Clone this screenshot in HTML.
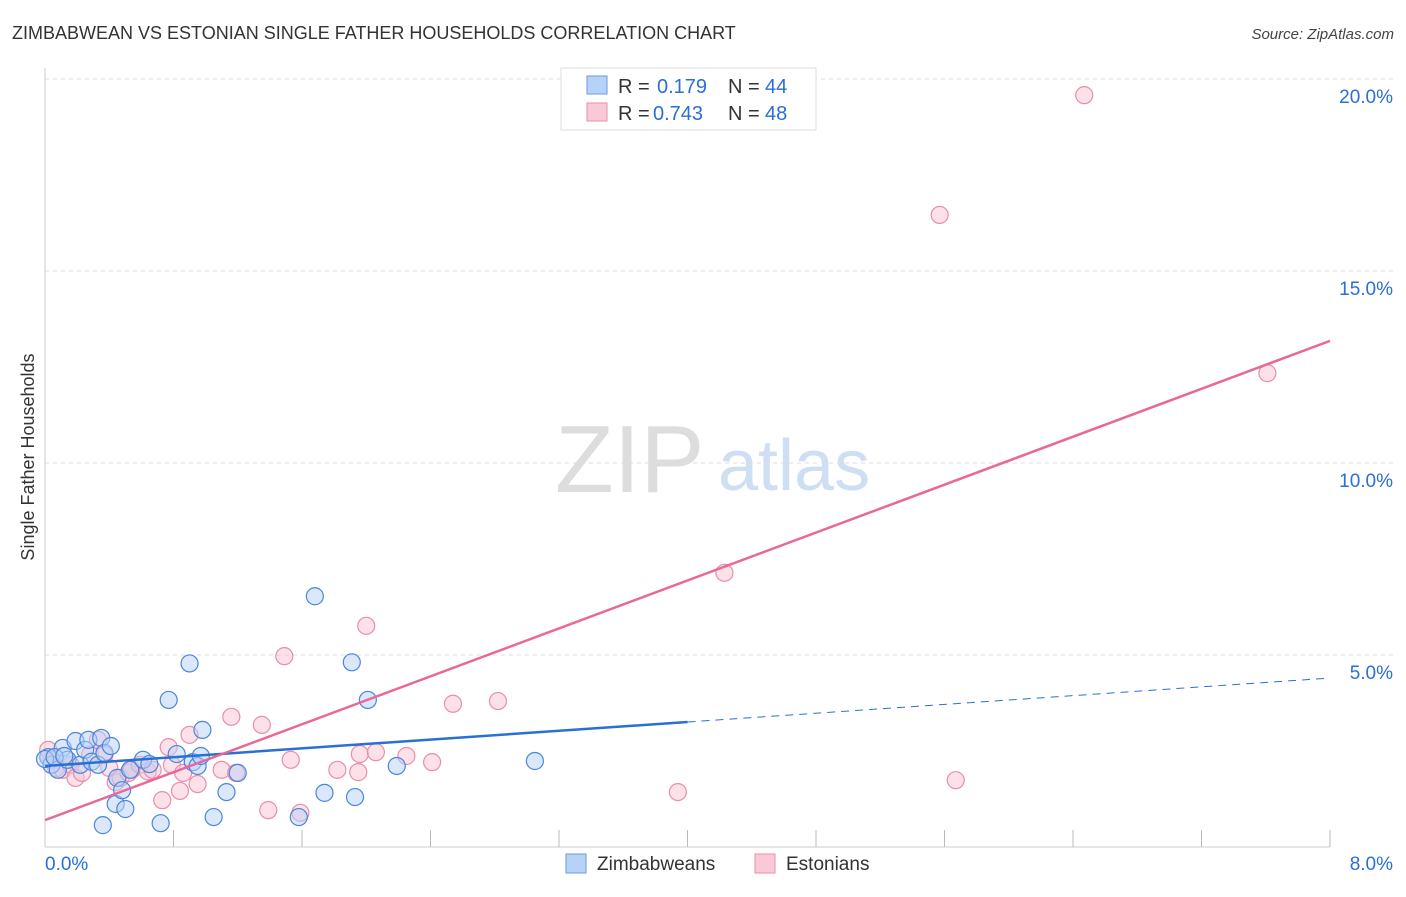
<!DOCTYPE html>
<html><head><meta charset="utf-8"><style>
body{margin:0;background:#fff;font-family:"Liberation Sans",sans-serif}
svg text{font-family:"Liberation Sans",sans-serif}
</style></head><body>
<svg width="1406" height="892" id="c">
<text x="12" y="39" font-size="18" fill="#333">ZIMBABWEAN VS ESTONIAN SINGLE FATHER HOUSEHOLDS CORRELATION CHART</text>
<text x="1394" y="39" font-size="15" fill="#444" font-style="italic" text-anchor="end">Source: ZipAtlas.com</text>
<text x="555" y="492" font-size="96" fill="#ddd" font-family="Liberation Serif">ZIP</text>
<text x="718" y="490" font-size="72" fill="#cfdff3">atlas</text>
<text transform="translate(34,457) rotate(-90)" font-size="18" fill="#333" text-anchor="middle">Single Father Households</text>
<g id="grid"></g><g id="marks"></g>
<g>
<rect x="561" y="68" width="255" height="62" fill="#fff" stroke="#ddd"/>
<rect x="587" y="76" width="20" height="18" fill="#b7d2f7" stroke="#6a9be0"/>
<text x="618" y="93" font-size="20" fill="#333">R =</text>
<text x="657" y="93" font-size="20" fill="#2a6fd6">0.179</text>
<text x="728" y="93" font-size="20" fill="#333">N =</text>
<text x="765" y="93" font-size="20" fill="#2a6fd6">44</text>
<rect x="587" y="103" width="20" height="18" fill="#f9c9d8" stroke="#e98ea8"/>
<text x="618" y="120" font-size="20" fill="#333">R =</text>
<text x="653" y="120" font-size="20" fill="#2a6fd6">0.743</text>
<text x="728" y="120" font-size="20" fill="#333">N =</text>
<text x="765" y="120" font-size="20" fill="#2a6fd6">48</text>
</g>
<g>
<rect x="566" y="854" width="20" height="19" fill="#b7d2f7" stroke="#6a9be0"/>
<text x="597" y="870" font-size="19" fill="#333">Zimbabweans</text>
<rect x="755" y="854" width="20" height="19" fill="#f9c9d8" stroke="#e98ea8"/>
<text x="786" y="870" font-size="19" fill="#333">Estonians</text>
</g>
</svg>
<script>
const yTicks=[5,10,15,20];
const yTickLabels=["5.0%","10.0%","15.0%","20.0%"];
const xTickLabels=["0.0%","8.0%"];
const zimX=[0.02,0.04,0.08,0.11,0.14,0.19,0.22,0.25,0.27,0.29,0.33,0.35,0.37,0.41,0.36,0.44,0.45,0.48,0.50,0.53,0.61,0.65,0.72,0.77,0.82,0.90,0.92,0.95,0.97,0.98,1.05,1.13,1.20,1.58,1.68,1.74,1.91,1.93,2.01,2.19,3.05,0.0,0.06,0.12];
const zimY=[2.34,2.14,2.01,2.58,2.27,2.76,2.14,2.53,2.79,2.22,2.14,2.84,2.45,2.63,0.57,1.12,1.80,1.48,0.99,2.01,2.27,2.16,0.62,3.83,2.42,4.78,2.21,2.11,2.37,3.05,0.78,1.43,1.93,0.78,6.53,1.41,4.81,1.30,3.83,2.11,2.24,2.29,2.34,2.37];
const estX=[0.02,0.04,0.07,0.11,0.16,0.19,0.23,0.28,0.33,0.37,0.40,0.44,0.47,0.52,0.54,0.59,0.64,0.67,0.73,0.77,0.79,0.84,0.86,0.90,0.95,1.10,1.16,1.19,1.35,1.39,1.49,1.53,1.59,1.82,1.95,1.96,2.00,2.06,2.25,2.41,2.54,2.82,3.94,4.23,5.57,5.67,6.47,7.61];
const estY=[2.53,2.27,2.06,2.01,2.14,1.80,1.93,2.40,2.79,2.40,2.06,1.69,1.80,1.93,2.01,2.14,1.97,2.01,1.22,2.60,2.14,1.46,1.93,2.92,1.64,2.01,3.39,1.93,3.18,0.96,4.97,2.27,0.89,2.01,1.95,2.42,5.76,2.47,2.37,2.21,3.73,3.80,1.43,7.14,16.46,1.74,19.58,12.34];
const zimTrend=[2.11,4.40];const estTrend=[0.70,13.18];const zimSolidEnd=4.0;
const X=v=>45+v*160.625, Y=v=>847-v*38.4;
const ns="http://www.w3.org/2000/svg";
function mk(t,a,p){const e=document.createElementNS(ns,t);for(const k in a)e.setAttribute(k,a[k]);p.appendChild(e);return e;}
const g=document.getElementById('grid'),m=document.getElementById('marks');
let ax=mk('line',{x1:45,y1:68,x2:45,y2:847,stroke:'#ccc'},g);


let bx=mk('line',{x1:45,y1:847,x2:1330,y2:847,stroke:'#ccc'},g);


yTicks.forEach((v,i)=>{const l=mk('line',{x1:45,y1:Y(v),x2:1395,y2:Y(v),stroke:'#ddd','stroke-dasharray':'4,4'},g);


const t=mk('text',{x:1393,y:Y(v)+24,'font-size':19,fill:'#2a6fd6','text-anchor':'end'},g);t.textContent=yTickLabels[i];

});
for(let i=1;i<=10;i++){const l=mk('line',{x1:X(i*0.8),y1:830,x2:X(i*0.8),y2:847,stroke:'#bbb'},g);

}
[[0,45,'start'],[8,1393,'end']].forEach((a,i)=>{const t=mk('text',{x:a[1],y:870,'font-size':19,fill:'#2a6fd6','text-anchor':a[2]},g);t.textContent=xTickLabels[i];

});
function pts(xs,ys,f,s,name){xs.forEach((x,i)=>{const c=mk('circle',{cx:X(x),cy:Y(ys[i]),r:8.5,fill:f,'fill-opacity':0.5,stroke:s,'stroke-width':1.2},m);

});}
pts(estX,estY,'#f9c4d4','#e98ea8','point-estonians');
pts(zimX,zimY,'#b7d2f7','#4a86dc','point-zimbabweans');
const slope=(zimTrend[1]-zimTrend[0])/8;
let l1=mk('line',{x1:X(0),y1:Y(zimTrend[0]),x2:X(zimSolidEnd),y2:Y(zimTrend[0]+slope*zimSolidEnd),stroke:'#2a6fd6','stroke-width':2.5},m);


let l2=mk('line',{x1:X(zimSolidEnd),y1:Y(zimTrend[0]+slope*zimSolidEnd),x2:X(8),y2:Y(zimTrend[1]),stroke:'#2a6fd6','stroke-width':1,'stroke-dasharray':'8,6'},m);


let l3=mk('line',{x1:X(0),y1:Y(estTrend[0]),x2:X(8),y2:Y(estTrend[1]),stroke:'#e8689a','stroke-width':2.5},m);


</script>
</body></html>
